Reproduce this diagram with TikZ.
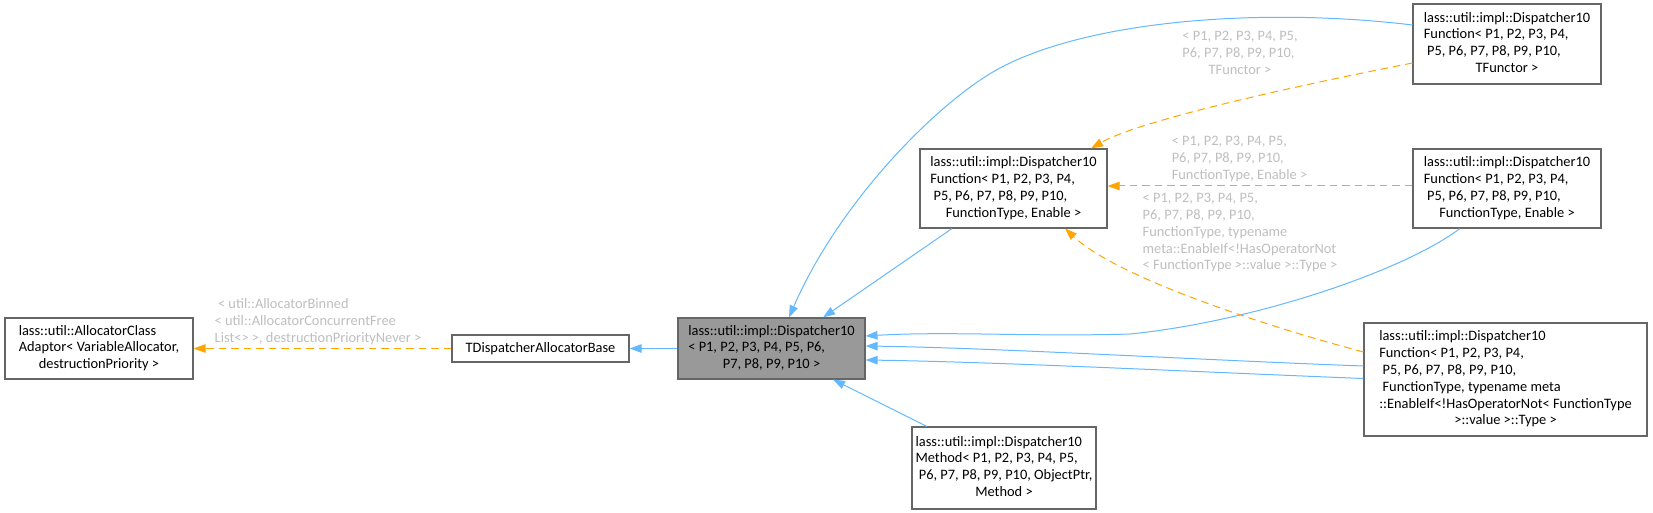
\documentclass[tikz,border=0pt]{standalone}
\usepackage{fontspec}
\setmainfont{Carlito}
\usetikzlibrary{arrows.meta}
\definecolor{eblue}{HTML}{63B8FF}
\definecolor{eorange}{HTML}{FFA500}
\definecolor{lgrey}{HTML}{BEBEBE}
\definecolor{bgray}{HTML}{666666}
\definecolor{cfill}{HTML}{999999}
\newcommand\dxl[2]{\begin{tabular}{@{}l@{}}#1\\\multicolumn{1}{@{}c@{}}{#2}\end{tabular}}
\newcommand\ind{\hspace*{3.3pt}}
\begin{document}
\begin{tikzpicture}[x=1pt,y=-1pt,
  every node/.style={font=\fontsize{14.4}{16.8}\selectfont},
  box/.style={draw=bgray, line width=1.1pt, fill=white, inner ysep=0pt, inner xsep=2pt},
  lbl/.style={text=lgrey, inner sep=0pt},
  inh/.style={draw=eblue, line width=1pt, -{Triangle[length=12pt,width=8.5pt]}, fill=none},
  dep/.style={draw=eorange, line width=1pt, dash pattern=on 7.5pt off 5pt, -{Triangle[length=12pt,width=8.5pt]}, fill=none}]
\useasboundingbox (0,0) rectangle (1653,513);
% nodes
\node[box, minimum width=188, minimum height=61] (A) at (99,348.5)
  {\dxl{lass::util::AllocatorClass\\Adaptor< VariableAllocator,}{destructionPriority >}};
\node[box, minimum width=177, minimum height=27] (B) at (540.5,348.5) {TDispatcherAllocatorBase};
\node[box, fill=cfill, minimum width=187, minimum height=61] (C) at (771.5,348.5)
  {\dxl{lass::util::impl::Dispatcher10\\< P1, P2, P3, P4, P5, P6,}{P7, P8, P9, P10 >}};
\node[box, minimum width=187, minimum height=79] (D) at (1013.5,188.5)
  {\dxl{lass::util::impl::Dispatcher10\\Function< P1, P2, P3, P4,\\\ind P5, P6, P7, P8, P9, P10,}{FunctionType, Enable >}};
\node[box, minimum width=188, minimum height=80] (E) at (1507,44)
  {\dxl{lass::util::impl::Dispatcher10\\Function< P1, P2, P3, P4,\\\ind P5, P6, P7, P8, P9, P10,}{TFunctor >}};
\node[box, minimum width=188, minimum height=79] (F) at (1507,188.5)
  {\dxl{lass::util::impl::Dispatcher10\\Function< P1, P2, P3, P4,\\\ind P5, P6, P7, P8, P9, P10,}{FunctionType, Enable >}};
\node[box, minimum width=283, minimum height=113] (G) at (1505.5,379.5)
  {\dxl{lass::util::impl::Dispatcher10\\Function< P1, P2, P3, P4,\\\ind P5, P6, P7, P8, P9, P10,\\\ind FunctionType, typename meta\\::EnableIf<!HasOperatorNot< FunctionType}{>::value >::Type >}};
\node[box, inner xsep=3pt, minimum width=184, minimum height=82] (H) at (1004,468)
  {\dxl{lass::util::impl::Dispatcher10\\Method< P1, P2, P3, P4, P5,\\\ind P6, P7, P8, P9, P10, ObjectPtr,}{Method >}};
% labels
\node[lbl] (L1) at (318,322)
  {\dxl{\ind < util::AllocatorBinned\\< util::AllocatorConcurrentFree}{List<> >, destructionPriorityNever >}};
\node[lbl] (L8) at (1240,54) {\dxl{< P1, P2, P3, P4, P5,\\P6, P7, P8, P9, P10,}{TFunctor >}};
\node[lbl] (L9) at (1239.5,159) {\dxl{< P1, P2, P3, P4, P5,\\P6, P7, P8, P9, P10,}{FunctionType, Enable >}};
\node[lbl] (L10) at (1240,233)
  {\dxl{< P1, P2, P3, P4, P5,\\P6, P7, P8, P9, P10,\\FunctionType, typename\\meta::EnableIf<!HasOperatorNot}{< FunctionType >::value >::Type >}};
% edges
\draw[dep] (B.west) -- (A.east);
\draw[inh] (C.west) -- (B.east);
\draw[inh] ([xshift=-61.5pt]D.south) -- ([xshift=51.5pt]C.north);
\draw[inh] ([yshift=19pt]E.west) .. controls (1263,7) and (1090,20) .. (1000,68)
  .. controls (940,100) and (840,200) .. ([xshift=17.5pt]C.north);
\draw[inh] ([xshift=-47pt]F.south) .. controls (1400,273) and (1250,322) .. (1130,334)
  .. controls (1030,337) and (950,331) .. ([yshift=12.5pt]C.east);
\draw[inh] ([yshift=13.5pt]G.west) .. controls (1200,360) and (1000,348) .. ([yshift=2.5pt]C.east);
\draw[inh] ([yshift=1pt]G.west) .. controls (1200,372) and (1000,362) .. ([yshift=-11.5pt]C.east);
\draw[inh] ([xshift=-77pt]H.north) -- ([xshift=61.5pt]C.south);
\draw[dep] ([yshift=-19pt]E.west) .. controls (1300,85) and (1140,120) .. ([xshift=77.5pt]D.north);
\draw[dep] ([yshift=2.5pt]F.west) -- ([yshift=2.5pt]D.east);
\draw[dep] ([yshift=27.5pt]G.west) .. controls (1280,330) and (1120,280) .. ([xshift=51.5pt]D.south);
\end{tikzpicture}
\end{document}
